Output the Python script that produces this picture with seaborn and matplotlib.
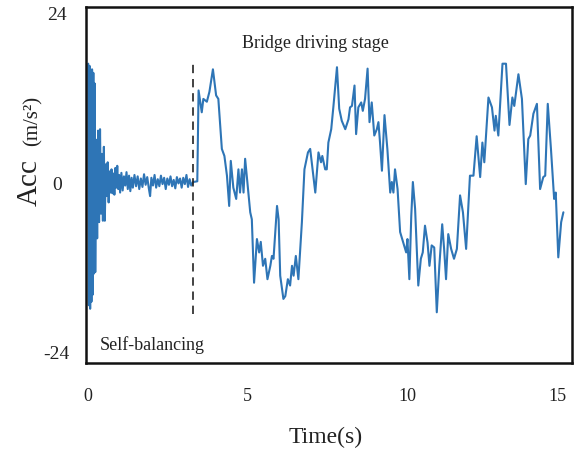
import numpy as np
import pandas as pd
import matplotlib
matplotlib.use("Agg")
import matplotlib.pyplot as plt
import seaborn as sns

# ---- data ----
# self-balancing stage: time (s) and acceleration (m/s^2)
t_self = [0.00, 0.02, 0.04, 0.06, 0.08, 0.10, 0.12, 0.14, 0.16, 0.18, 0.20, 0.22,
          0.25, 0.28, 0.31, 0.34, 0.37, 0.40, 0.43, 0.46, 0.49, 0.52, 0.55, 0.58,
          0.61, 0.64, 0.67, 0.70, 0.73, 0.76, 0.79, 0.82, 0.85, 0.88, 0.91, 0.94,
          0.97, 1.00, 1.04, 1.08, 1.12, 1.16, 1.20, 1.24, 1.28, 1.32, 1.36, 1.40,
          1.45, 1.50, 1.55, 1.60, 1.65, 1.70, 1.75, 1.80, 1.85, 1.90, 1.94, 1.98,
          2.03, 2.08, 2.13, 2.18, 2.23, 2.28, 2.33, 2.38, 2.43, 2.48, 2.53, 2.58,
          2.63, 2.68, 2.73, 2.78, 2.83, 2.88, 2.93, 2.98, 3.03, 3.08, 3.13, 3.18,
          3.23, 3.29]
a_self = [16.8, -17.5, 16.5, -18.0, 15.5, -17.0, 16.0, -16.0, 15.5, -13.0, 14.0, -12.8,
          6.0, -8.0, 7.3, -5.7, 7.5, -4.5, 4.0, -5.5, 5.0, -5.5, 2.5, -2.0,
          2.8, -2.9, 1.5, -1.5, 1.8, -1.6, 1.2, -1.8, 2.0, -0.8, 2.3, -1.0,
          1.0, -1.5, 1.3, -1.2, 0.8, -0.5, 1.4, -1.0, 0.9, -1.3, 0.6, -0.8,
          1.0, -0.6, 0.8, -1.0, 0.5, -0.7, 1.1, -0.4, 0.7, -0.9, -2.0, 0.6,
          -0.5, 1.0, -0.8, 0.4, -0.6, 0.9, -0.3, 0.6, -1.0, 0.5, -0.4, 0.8,
          -0.6, 0.3, -0.9, 0.7, -0.2, 0.5, -0.8, 0.6, -0.3, 1.0, -0.7, 0.4,
          -0.5, 0.0]

# bridge driving stage
t_drive = [3.42, 3.46, 3.56, 3.61, 3.72, 3.80, 3.91, 4.01, 4.08, 4.19, 4.27, 4.35,
           4.42, 4.47, 4.55, 4.64, 4.71, 4.76, 4.82, 4.87, 4.92, 4.99, 5.08, 5.13,
           5.20, 5.29, 5.36, 5.41, 5.48, 5.55, 5.62, 5.71, 5.76, 5.81, 5.92, 5.97,
           6.02, 6.12, 6.18, 6.26, 6.33, 6.39, 6.44, 6.51, 6.59, 6.70, 6.78, 6.89,
           6.96, 7.01, 7.12, 7.22, 7.30, 7.34, 7.43, 7.48, 7.53, 7.62, 7.69, 7.80,
           7.87, 7.95, 8.06, 8.16, 8.21, 8.27, 8.35, 8.40, 8.47, 8.56, 8.61, 8.68,
           8.76, 8.82, 8.89, 8.97, 9.05, 9.10, 9.15, 9.21, 9.29, 9.38, 9.47, 9.52,
           9.57, 9.62, 9.70, 9.78, 9.88, 9.97, 10.01, 10.07, 10.13, 10.18, 10.25, 10.35,
           10.43, 10.49, 10.56, 10.64, 10.70, 10.77, 10.85, 10.93, 11.01, 11.10, 11.16, 11.22,
           11.29, 11.38, 11.47, 11.56, 11.66, 11.75, 11.85, 11.92, 11.97, 12.08, 12.18, 12.29,
           12.36, 12.42, 12.55, 12.66, 12.74, 12.78, 12.86, 12.99, 13.10, 13.21, 13.30, 13.36,
           13.49, 13.60, 13.72, 13.80, 13.86, 13.96, 14.07, 14.17, 14.27, 14.33, 14.41, 14.51,
           14.61, 14.66, 14.74, 14.83, 14.90]
a_drive = [0.1, 13.0, 9.9, 11.8, 11.4, 12.8, 16.0, 12.3, 11.8, 4.7, 3.7, 0.9,
           -3.4, 3.0, -0.8, -2.4, 1.8, -1.5, 1.8, -1.5, 3.3, 0.0, -4.3, -5.3,
           -14.3, -8.1, -10.0, -8.5, -11.9, -10.9, -13.8, -11.9, -10.5, -10.9, -3.4, -5.3,
           -13.3, -16.6, -16.2, -13.8, -14.7, -11.9, -13.3, -10.5, -13.8, -5.7, 1.8, 4.2,
           4.7, 2.8, -1.5, 4.2, 2.8, 3.7, 1.8, 1.8, 5.6, 7.5, 10.8, 16.3,
           10.4, 8.7, 7.5, 8.9, 10.6, 10.8, 13.7, 6.8, 10.6, 11.3, 10.1, 11.8,
           16.1, 8.5, 11.3, 6.6, 7.5, 8.5, 5.6, 1.6, 9.5, 4.7, -1.5, 0.0,
           -1.5, 1.8, -1.0, -7.1, -8.6, -10.0, -8.1, -13.8, -4.8, 0.0, -3.8, -14.7,
           -10.9, -10.0, -6.2, -8.6, -11.9, -9.0, -9.3, -18.5, -11.9, -6.0, -9.5, -13.8,
           -7.4, -9.5, -10.9, -9.5, -1.9, -4.3, -9.5, -3.4, 0.9, 0.9, 6.5, 0.7,
           5.6, 2.8, 12.0, 10.6, 7.3, 9.4, 6.6, 16.8, 16.8, 8.1, 12.0, 10.8,
           15.3, 11.8, -0.3, 6.1, 6.6, 9.7, 11.1, -1.0, 0.7, 0.9, 11.1, 4.7,
           -2.4, -1.5, -10.7, -5.7, -4.3]

stage_split = 3.29
x_ticks = [0, 5, 10, 15]
y_ticks = [-24, 0, 24]
y_tick_labels = ["-24", "0", "24"]

df = pd.DataFrame({"Time": t_self + t_drive, "Acc": a_self + a_drive})

# ---- figure ----
sns.set_theme(style="white")
plt.rcParams["font.family"] = ["Liberation Serif", "DejaVu Serif"]

fig = plt.figure(figsize=(5.74, 4.52), dpi=100)
ax = fig.add_axes([86 / 574, 1 - 364 / 452, (572 - 86) / 574, (364 - 8) / 452])

sns.lineplot(data=df, x="Time", y="Acc", ax=ax, color="#2E75B6", linewidth=1.5,
             estimator=None, sort=True)

ax.vlines(stage_split, -18.8, 17.2, colors="#222222", linestyles=(0, (5, 3.5)), linewidth=1.2)

ax.set_xlim(-0.07, 15.17)
ax.set_ylim(-25.7, 24.85)
ax.set_xticks(x_ticks)
ax.set_xticklabels([str(v) for v in x_ticks])
ax.set_yticks(y_ticks)
ax.set_yticklabels(y_tick_labels)
ax.tick_params(axis="x", length=0, pad=17, labelsize=13, labelcolor="#222222")
ax.tick_params(axis="y", length=0, pad=21, labelsize=14, labelcolor="#222222")
for lab in ax.get_yticklabels():
    lab.set_horizontalalignment("center")
xlabs = ax.get_xticklabels()
xlabs[-1].set_horizontalalignment("right")
xlabs[-1].set_x(15.17)
ax.set_xlabel("")
ax.set_ylabel("")

for sp in ax.spines.values():
    sp.set_visible(True)
    sp.set_color("#111111")
    sp.set_linewidth(1.8)

ax.text(315 / 574, 1 - 44 / 452, "Bridge driving stage", transform=fig.transFigure,
        ha="center", va="center", fontsize=13, color="#222222")
ax.text(100 / 574, 1 - 345 / 452, "Self-balancing", transform=fig.transFigure,
        ha="left", va="center", fontsize=13, color="#222222")

fig.text(326 / 574, 1 - 437 / 452, "Time(s)", ha="center", va="center",
         fontsize=17, color="#222222")
fig.text(30 / 574, 1 - 182 / 452, "Acc", ha="center", va="center", rotation=90,
         fontsize=21, color="#222222")
fig.text(33 / 574, 1 - 121 / 452, "(m/s²)", ha="center", va="center", rotation=90,
         fontsize=15, color="#222222")

fig.savefig("out.png", dpi=100)
